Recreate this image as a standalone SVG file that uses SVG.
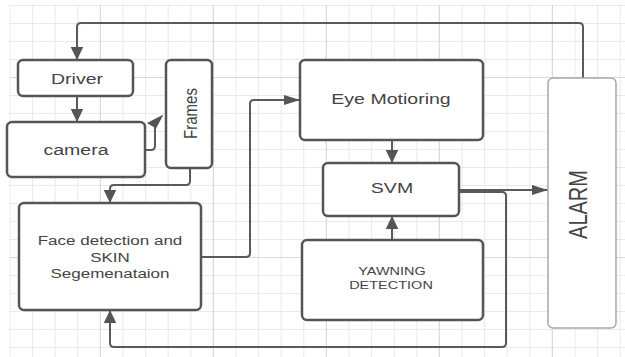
<svg xmlns="http://www.w3.org/2000/svg" width="625" height="357" viewBox="0 0 625 357">
<defs>
<style>
.g{stroke:#e9e9e9;stroke-width:1}
.gm{stroke:#dadada;stroke-width:1.2}
.n{fill:#fff;stroke:#555;stroke-width:2.5}
.al{fill:#fff;stroke:#a8a8a8;stroke-width:1.5}
.c{fill:none;stroke:#5a5a5a;stroke-width:2}
.t{font-family:"Liberation Sans",Arial,sans-serif;fill:#444;text-anchor:middle}
.ah{fill:#555}
</style>
<marker id="aH" markerUnits="userSpaceOnUse" markerWidth="18" markerHeight="12" refX="16" refY="5" orient="auto"><path d="M0,0 L16,5 L0,10 Z" fill="#555"/></marker>
<marker id="aV" markerUnits="userSpaceOnUse" markerWidth="14" markerHeight="14" refX="13" refY="6.3" orient="auto"><path d="M0,0 L13,6.3 L0,12.6 Z" fill="#555"/></marker>
<pattern id="grid" x="9.5" y="5" width="22.6" height="18" patternUnits="userSpaceOnUse"><path d="M0.5,0 V18 M0,0.5 H22.6" class="g"/></pattern>
</defs>
<rect width="625" height="357" fill="#fff"/>
<rect x="9.5" y="4.5" width="616" height="353" fill="url(#grid)"/>
<g id="grid-major">
<path class="gm" d="M100.4,5 V357 M213.4,5 V357 M326.4,5 V357 M439.4,5 V357 M552.4,5 V357 M10,77.5 H625 M10,257.5 H625"/>
</g>
<g id="connectors">
<path class="c" d="M583,78 V27 Q583,23 579,23 H81 Q77,23 77,27 V60" marker-end="url(#aV)"/>
<path class="c" d="M77,96 V122" marker-end="url(#aV)"/>
<path class="c" d="M145,150 H151 Q155,150 155,146 V126"/>
<polygon class="ah" points="163.5,114.5 147,123 156,128.5"/>
<path class="c" d="M190,168 V181 Q190,185 186,185 H114 Q110,185 110,189 V203" marker-end="url(#aV)"/>
<path class="c" d="M201,257 H246 Q250,257 250,253 V104 Q250,100 254,100 H300" marker-end="url(#aH)"/>
<path class="c" d="M392,140 V163" marker-end="url(#aV)"/>
<path class="c" d="M392,240 V216" marker-end="url(#aV)"/>
<path class="c" d="M459,190 H548" marker-end="url(#aH)"/>
<path class="c" d="M459,192 H502 Q506,192 506,196 V343 Q506,347 502,347 H114 Q110,347 110,343 V310" marker-end="url(#aV)"/>
</g>
<g id="driver">
<rect class="n" x="18" y="60" width="115" height="36" rx="5"/>
<text class="t" font-size="15.5" transform="translate(77,84) scale(1.26,1)">Driver</text>
</g>
<g id="camera">
<rect class="n" x="7" y="122" width="138" height="55" rx="5"/>
<text class="t" font-size="15.5" transform="translate(76,155) scale(1.26,1)">camera</text>
</g>
<g id="frames">
<rect class="n" x="166" y="60" width="46" height="108" rx="5"/>
<text class="t" font-size="15" transform="translate(196.5,113.5) scale(1.26,1) rotate(-90)">Frames</text>
</g>
<g id="face">
<rect class="n" x="19" y="203" width="182" height="107" rx="5"/>
<text class="t" font-size="13.5" transform="translate(110,245) scale(1.26,1)">Face detection and</text>
<text class="t" font-size="13.5" transform="translate(110,261.5) scale(1.26,1)">SKIN</text>
<text class="t" font-size="13.5" transform="translate(110,277.5) scale(1.26,1)">Segemenataion</text>
</g>
<g id="eye">
<rect class="n" x="300" y="60" width="183" height="80" rx="5"/>
<text class="t" font-size="15.5" transform="translate(391,104) scale(1.26,1)">Eye Motioring</text>
</g>
<g id="svm">
<rect class="n" x="323" y="163" width="136" height="53" rx="5"/>
<text class="t" font-size="15.5" transform="translate(392,193) scale(1.26,1)">SVM</text>
</g>
<g id="yawning">
<rect class="n" x="302" y="240" width="181" height="80" rx="5"/>
<text class="t" font-size="11.5" transform="translate(392,274.5) scale(1.26,1)">YAWNING</text>
<text class="t" font-size="11.5" transform="translate(391,289) scale(1.26,1)">DETECTION</text>
</g>
<g id="alarm">
<rect class="al" x="548" y="78" width="68" height="250" rx="5"/>
<text class="t" font-size="20" transform="translate(587,204.5) scale(1.26,1) rotate(-90)">ALARM</text>
</g>
</svg>
